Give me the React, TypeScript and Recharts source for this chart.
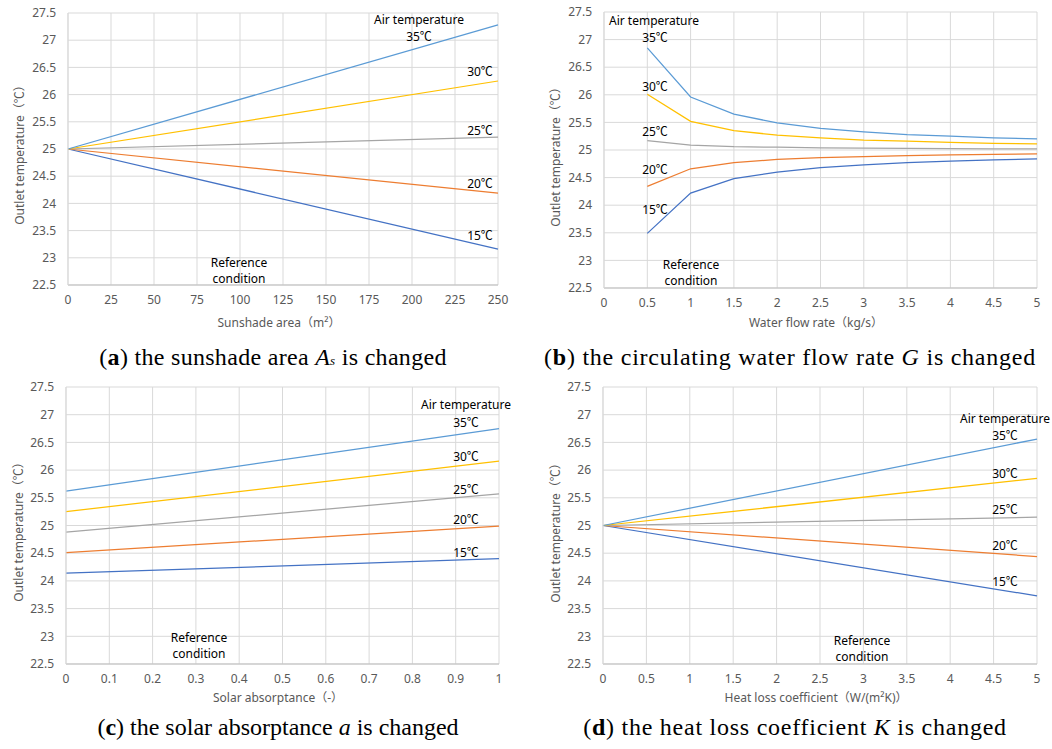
import React from 'react'
import { LineChart, Line, XAxis, YAxis, CartesianGrid } from 'recharts'

const SANS = "'Noto Sans', 'Noto Sans CJK JP', sans-serif"
const CJK = "'Noto Sans CJK JP', sans-serif"
const SERIF = "'Liberation Serif', 'DejaVu Serif', serif"

const COLORS: Record<string, string> = {
  t35: '#5B9BD5',
  t30: '#FFC000',
  t25: '#A5A5A5',
  t20: '#ED7D31',
  t15: '#4472C4',
}
const SERIES = ['t15', 't20', 't25', 't30', 't35']

const tempTicks = [22.5, 23, 23.5, 24, 24.5, 25, 25.5, 26, 26.5, 27, 27.5]

// (a) sunshade area
const areaX = [0, 250]
const areaT35 = [25, 27.28]
const areaT30 = [25, 26.25]
const areaT25 = [25, 25.22]
const areaT20 = [25, 24.19]
const areaT15 = [25, 23.16]
const areaTicks = [0, 25, 50, 75, 100, 125, 150, 175, 200, 225, 250]

// (b) water flow rate
const flowX = [0.5, 1, 1.5, 2, 2.5, 3, 3.5, 4, 4.5, 5]
const flowT35 = [26.85, 25.96, 25.65, 25.49, 25.39, 25.33, 25.28, 25.25, 25.22, 25.2]
const flowT30 = [26.01, 25.52, 25.35, 25.27, 25.22, 25.18, 25.16, 25.14, 25.12, 25.11]
const flowT25 = [25.17, 25.09, 25.06, 25.05, 25.04, 25.035, 25.03, 25.025, 25.02, 25.02]
const flowT20 = [24.34, 24.66, 24.77, 24.83, 24.86, 24.88, 24.9, 24.91, 24.92, 24.93]
const flowT15 = [23.49, 24.22, 24.48, 24.6, 24.68, 24.73, 24.77, 24.8, 24.82, 24.84]
const flowTicks = [0, 0.5, 1, 1.5, 2, 2.5, 3, 3.5, 4, 4.5, 5]

// (c) solar absorptance
const absX = [0, 1]
const absT35 = [25.62, 26.75]
const absT30 = [25.25, 26.16]
const absT25 = [24.88, 25.57]
const absT20 = [24.51, 24.99]
const absT15 = [24.14, 24.4]
const absTicks = [0, 0.1, 0.2, 0.3, 0.4, 0.5, 0.6, 0.7, 0.8, 0.9, 1]

// (d) heat loss coefficient
const lossX = [0, 5]
const lossT35 = [25, 26.56]
const lossT30 = [25, 25.85]
const lossT25 = [25, 25.15]
const lossT20 = [25, 24.44]
const lossT15 = [25, 23.73]
const lossTicks = [0, 0.5, 1, 1.5, 2, 2.5, 3, 3.5, 4, 4.5, 5]

function rows(x: number[], t35: number[], t30: number[], t25: number[], t20: number[], t15: number[]) {
  return x.map((v, i) => ({ x: v, t35: t35[i], t30: t30[i], t25: t25[i], t20: t20[i], t15: t15[i] }))
}

const Deg = () => <span style={{ fontFamily: CJK }}>℃</span>

const Note = ({ x, y, children, size = 12, color = '#000' }: any) => (
  <div style={{
    position: 'absolute', left: x, top: y, transform: 'translate(-50%, -50%)',
    fontSize: size, color, whiteSpace: 'nowrap', fontFamily: SANS, lineHeight: 1,
  }}>{children}</div>
)

const YTitle = ({ x, y }: any) => (
  <div style={{
    position: 'absolute', left: x, top: y, transform: 'translate(-50%, -50%) rotate(-90deg)',
    fontSize: 12, color: '#595959', whiteSpace: 'nowrap', fontFamily: SANS, lineHeight: 1,
  }}>Outlet temperature（<Deg />）</div>
)

const Caption = ({ x, y, spacing = 0, children }: any) => (
  <div style={{
    position: 'absolute', left: x, top: y, transform: 'translate(-50%, -50%)',
    fontSize: 24, color: '#000', whiteSpace: 'nowrap', fontFamily: SERIF, lineHeight: 1,
    letterSpacing: spacing,
  }}>{children}</div>
)

function Panel({ left, top, width, height, data, ticks, domain, mTop, mRight, yWidth, xHeight }: any) {
  const tick = { fill: '#595959', fontSize: 12, fontFamily: SANS }
  return (
    <div style={{ position: 'absolute', left, top }}>
      <LineChart width={width} height={height} data={data}
        margin={{ top: mTop, right: mRight, left: 0, bottom: 0 }}>
        <CartesianGrid stroke="#D9D9D9" strokeWidth={1} />
        <XAxis type="number" dataKey="x" domain={domain} ticks={ticks} height={xHeight}
          tick={tick} tickLine={false} tickSize={0} tickMargin={10}
          axisLine={{ stroke: '#BFBFBF' }} interval={0} />
        <YAxis type="number" domain={[22.5, 27.5]} ticks={tempTicks} width={yWidth}
          tick={tick} tickLine={false} tickSize={0} tickMargin={12}
          axisLine={{ stroke: '#D9D9D9' }} interval={0} />
        {SERIES.map((k) => (
          <Line key={k} type="linear" dataKey={k} stroke={COLORS[k]} strokeWidth={1.25}
            dot={false} isAnimationActive={false} />
        ))}
      </LineChart>
    </div>
  )
}

export default function App() {
  return (
    <div style={{ position: 'absolute', left: 0, top: 0, width: 1052, height: 749, background: '#fff', overflow: 'hidden' }}>
      <Panel left={0} top={0} width={520} height={340}
        data={rows(areaX, areaT35, areaT30, areaT25, areaT20, areaT15)}
        ticks={areaTicks} domain={[0, 250]} mTop={13} mRight={22} yWidth={68} xHeight={55} />
      <Panel left={530} top={0} width={522} height={340}
        data={rows(flowX, flowT35, flowT30, flowT25, flowT20, flowT15)}
        ticks={flowTicks} domain={[0, 5]} mTop={12} mRight={15} yWidth={74} xHeight={52} />
      <Panel left={0} top={370} width={520} height={340}
        data={rows(absX, absT35, absT30, absT25, absT20, absT15)}
        ticks={absTicks} domain={[0, 1]} mTop={17} mRight={21} yWidth={66} xHeight={46} />
      <Panel left={530} top={370} width={522} height={340}
        data={rows(lossX, lossT35, lossT30, lossT25, lossT20, lossT15)}
        ticks={lossTicks} domain={[0, 5]} mTop={17} mRight={15} yWidth={73} xHeight={46} />

      {/* (a) */}
      <YTitle x={19} y={152} />
      <Note x={279} y={323} color="#595959">Sunshade area（m²）</Note>
      <Note x={419} y={20}>Air temperature</Note>
      <Note x={419} y={36}>35<Deg /></Note>
      <Note x={480} y={71}>30<Deg /></Note>
      <Note x={480} y={130}>25<Deg /></Note>
      <Note x={480} y={183}>20<Deg /></Note>
      <Note x={480} y={235}>15<Deg /></Note>
      <Note x={239} y={263}>Reference</Note>
      <Note x={239} y={279}>condition</Note>

      {/* (b) */}
      <YTitle x={555} y={154} />
      <Note x={816} y={323} color="#595959">Water flow rate（kg/s）</Note>
      <Note x={654} y={21}>Air temperature</Note>
      <Note x={655} y={37}>35<Deg /></Note>
      <Note x={655} y={86}>30<Deg /></Note>
      <Note x={655} y={131}>25<Deg /></Note>
      <Note x={655} y={169}>20<Deg /></Note>
      <Note x={655} y={209}>15<Deg /></Note>
      <Note x={691} y={265}>Reference</Note>
      <Note x={691} y={281}>condition</Note>

      {/* (c) */}
      <YTitle x={18} y={529} />
      <Note x={278} y={698} color="#595959">Solar absorptance（-）</Note>
      <Note x={466} y={405}>Air temperature</Note>
      <Note x={466} y={422}>35<Deg /></Note>
      <Note x={466} y={456}>30<Deg /></Note>
      <Note x={466} y={489}>25<Deg /></Note>
      <Note x={466} y={519}>20<Deg /></Note>
      <Note x={466} y={552}>15<Deg /></Note>
      <Note x={199} y={638}>Reference</Note>
      <Note x={199} y={654}>condition</Note>

      {/* (d) */}
      <YTitle x={555} y={530} />
      <Note x={816} y={698} color="#595959">Heat loss coefficient（W/(m²K)）</Note>
      <Note x={1005} y={419}>Air temperature</Note>
      <Note x={1005} y={435}>35<Deg /></Note>
      <Note x={1005} y={473}>30<Deg /></Note>
      <Note x={1005} y={509}>25<Deg /></Note>
      <Note x={1005} y={545}>20<Deg /></Note>
      <Note x={1005} y={581}>15<Deg /></Note>
      <Note x={862} y={641}>Reference</Note>
      <Note x={862} y={657}>condition</Note>

      <Caption x={273} y={357} spacing={0.3}>(<b>a</b>) the sunshade area <i>A</i><i style={{ fontSize: 13 }}>s</i> is changed</Caption>
      <Caption x={790} y={357} spacing={0.75}>(<b>b</b>) the circulating water flow rate <i>G</i> is changed</Caption>
      <Caption x={278} y={727} spacing={0}>(<b>c</b>) the solar absorptance <i>a</i> is changed</Caption>
      <Caption x={795} y={727} spacing={0.75}>(<b>d</b>) the heat loss coefficient <i>K</i> is changed</Caption>
    </div>
  )
}
